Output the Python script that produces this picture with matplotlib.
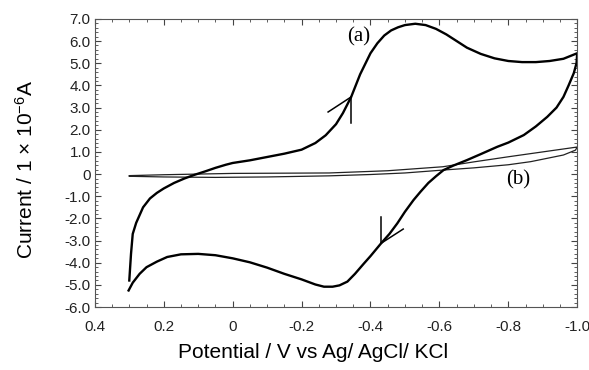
import matplotlib
matplotlib.use('Agg')
import matplotlib.pyplot as plt
from matplotlib.ticker import MultipleLocator

plt.rcParams['font.family'] = ['Liberation Sans', 'DejaVu Sans']
plt.rcParams['mathtext.default'] = 'regular'

# curve (a): potential (V) and current (1e-6 A) in scan order
cv_a_E = [0.300, 0.295, 0.29, 0.28, 0.26, 0.24, 0.22, 0.20, 0.17, 0.14,
          0.11, 0.08, 0.05, 0.02, 0.0, -0.05, -0.10, -0.15, -0.20, -0.24,
          -0.27, -0.30, -0.32, -0.344, -0.37, -0.40, -0.42, -0.44, -0.46, -0.48,
          -0.50, -0.53, -0.56, -0.59, -0.62, -0.65, -0.68, -0.72, -0.76, -0.80,
          -0.84, -0.88, -0.92, -0.96, -1.0,
          -0.998, -0.99, -0.975, -0.96, -0.94, -0.913, -0.88, -0.845, -0.80, -0.768,
          -0.72, -0.68, -0.64, -0.612, -0.59, -0.568, -0.545, -0.525, -0.50, -0.478,
          -0.455, -0.431, -0.40, -0.38, -0.355, -0.333, -0.31, -0.29, -0.265, -0.24,
          -0.20, -0.15, -0.10, -0.05, 0.0, 0.05, 0.10, 0.15, 0.19, 0.22,
          0.25, 0.27, 0.29, 0.302]
cv_a_I = [-4.8, -3.6, -2.7, -2.2, -1.5, -1.1, -0.85, -0.65, -0.40, -0.20,
          -0.03, 0.12, 0.28, 0.42, 0.5, 0.62, 0.77, 0.92, 1.10, 1.40,
          1.75, 2.25, 2.75, 3.48, 4.5, 5.45, 5.9, 6.25, 6.48, 6.62,
          6.72, 6.78, 6.72, 6.55, 6.3, 6.0, 5.7, 5.42, 5.22, 5.1,
          5.05, 5.05, 5.1, 5.2, 5.45,
          5.0, 4.55, 4.0, 3.48, 3.0, 2.58, 2.15, 1.76, 1.42, 1.23,
          0.9, 0.63, 0.38, 0.18, -0.1, -0.4, -0.8, -1.17, -1.7, -2.22,
          -2.7, -3.12, -3.7, -4.05, -4.5, -4.85, -5.02, -5.08, -5.08, -4.98,
          -4.75, -4.5, -4.22, -3.98, -3.8, -3.66, -3.6, -3.62, -3.74, -3.95,
          -4.2, -4.5, -4.9, -5.25]

# curve (b): blank electrode
cv_b_E = [0.30, 0.2, 0.1, 0.0, -0.28, -0.45, -0.61, -0.7, -0.8, -0.9, -1.0,
          -0.995, -0.96, -0.9, -0.865, -0.8, -0.7, -0.61, -0.5, -0.4, -0.28,
          -0.1, 0.05, 0.2, 0.30]
cv_b_I = [-0.07, -0.03, 0.0, 0.03, 0.05, 0.15, 0.33, 0.55, 0.78, 1.0, 1.22,
          1.08, 0.86, 0.67, 0.56, 0.42, 0.28, 0.18, 0.05, -0.02, -0.08,
          -0.13, -0.15, -0.13, -0.10]

# scan direction arrows: tip and the two barb ends
arrow_tips = [(-0.344, 3.48), (-0.431, -3.12)]
arrow_barbs = [[(-0.344, 2.3), (-0.277, 2.8)], [(-0.431, -1.94), (-0.495, -2.48)]]

x_ticks = [0.4, 0.2, 0.0, -0.2, -0.4, -0.6, -0.8, -1.0]
x_labels = ['0.4', '0.2', '0', '-0.2', '-0.4', '-0.6', '-0.8', '-1.0']
y_ticks = [7, 6, 5, 4, 3, 2, 1, 0, -1, -2, -3, -4, -5, -6]
y_labels = ['7.0', '6.0', '5.0', '4.0', '3.0', '2.0', '1.0', '0',
            '-1.0', '-2.0', '-3.0', '-4.0', '-5.0', '-6.0']

fig = plt.figure(figsize=(5.89, 3.70), dpi=100)
ax = fig.add_axes([0.161, 0.170, 0.819, 0.779])

ax.plot(cv_b_E, cv_b_I, color='#222222', lw=0.9)
ax.plot(cv_a_E, cv_a_I, color='black', lw=1.7)

for tip, barbs in zip(arrow_tips, arrow_barbs):
    for b in barbs:
        ax.plot([tip[0], b[0]], [tip[1], b[1]], color='black', lw=1.1)

ax.text(-0.365, 6.2, '(a)', family='Liberation Serif', fontsize=15, ha='center', va='center')
ax.text(-0.83, -0.27, '(b)', family='Liberation Serif', fontsize=15, ha='center', va='center')

ax.set_xlim(0.4, -1.0)
ax.set_ylim(-6, 7)
ax.set_xticks(x_ticks)
ax.set_xticklabels(x_labels)
ax.set_yticks(y_ticks)
ax.set_yticklabels(y_labels)
ax.xaxis.set_minor_locator(MultipleLocator(0.05))
ax.yaxis.set_minor_locator(MultipleLocator(0.2))
ax.tick_params(which='both', direction='in', top=True, right=True,
               labelsize=11, colors='#444444', labelcolor='#222222')
ax.tick_params(which='major', length=4)
ax.tick_params(which='minor', length=2)
ax.tick_params(axis='x', pad=9)
ax.tick_params(axis='y', pad=3)
for s in ax.spines.values():
    s.set_color('#555555')
    s.set_linewidth(0.8)

ax.set_xlabel('Potential / V vs Ag/ AgCl/ KCl', fontsize=15)
ax.set_ylabel('Current / 1 \u00d7 10$^{-6}$A', fontsize=15)
# the original labels sit a bit off-centre
ax.xaxis.set_label_coords(0.452, -0.125)
ax.yaxis.set_label_coords(-0.12, 0.476)

fig.savefig('out.png', dpi=100)
